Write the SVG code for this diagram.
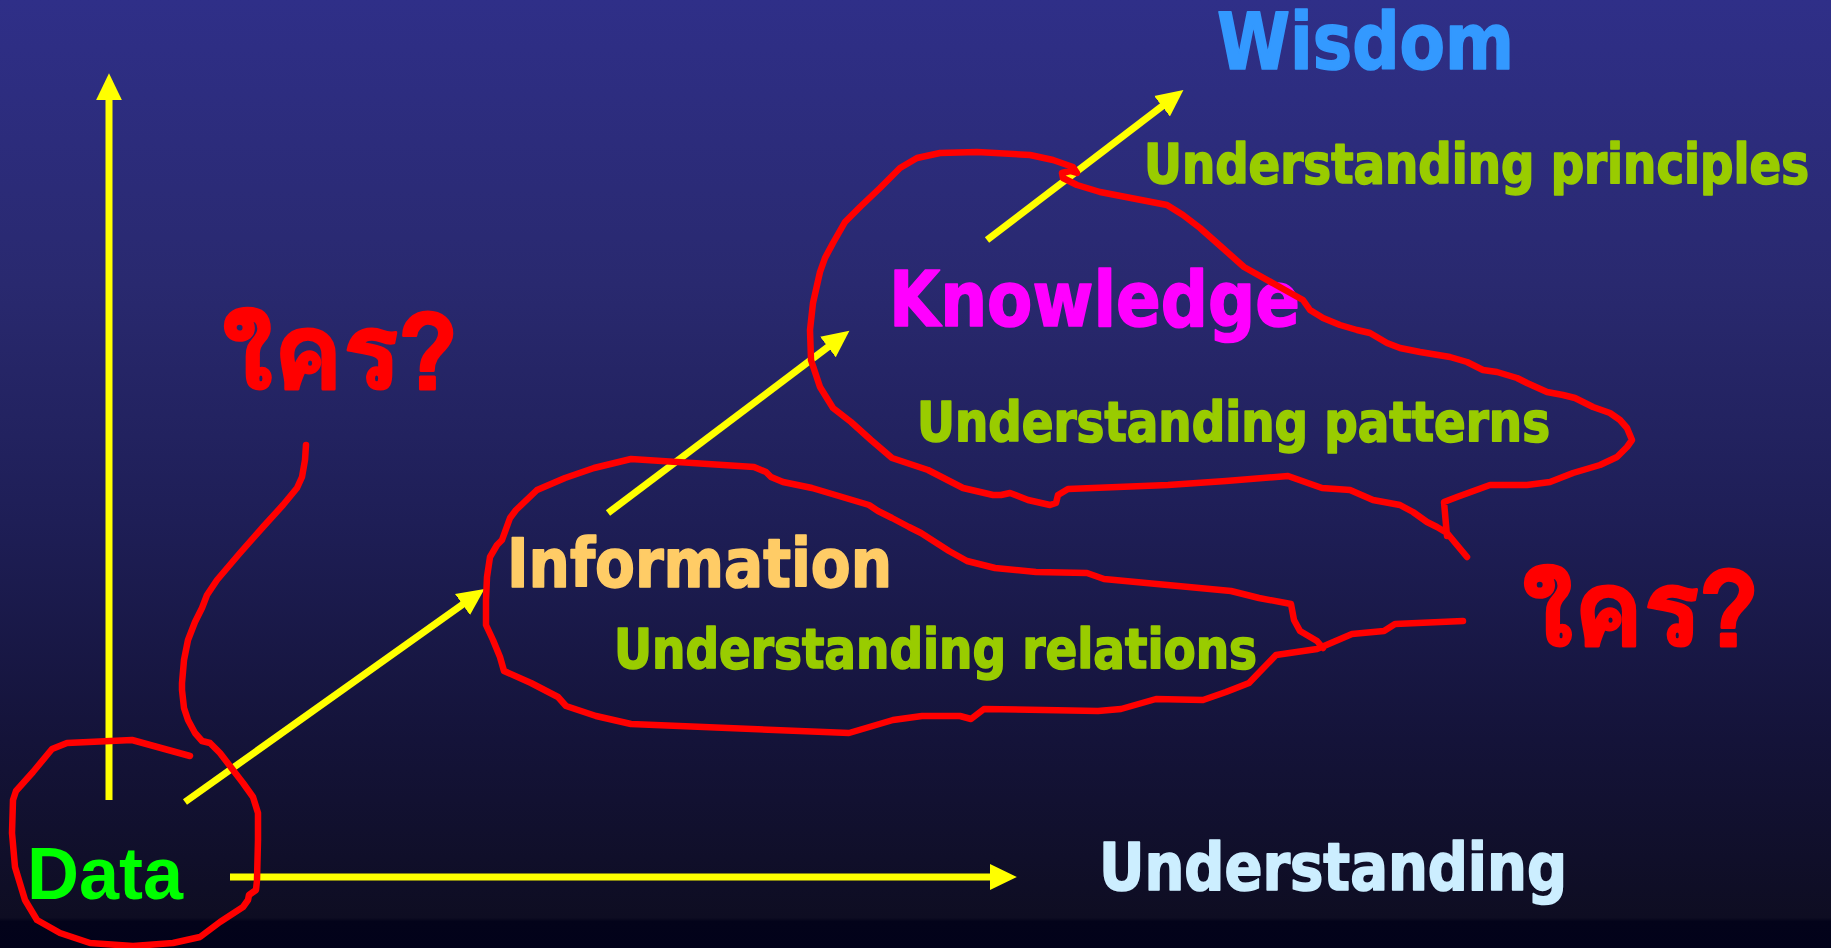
<svg xmlns="http://www.w3.org/2000/svg" width="1831" height="948" viewBox="0 0 1831 948">
<defs>
<linearGradient id="bg" x1="0" y1="0" x2="0" y2="948" gradientUnits="userSpaceOnUse">
<stop offset="0" stop-color="#2f2f88"/>
<stop offset="0.3" stop-color="#29296f"/>
<stop offset="0.55" stop-color="#1e1e56"/>
<stop offset="0.78" stop-color="#141339"/>
<stop offset="0.968" stop-color="#0e0d22"/>
<stop offset="0.972" stop-color="#03031a"/>
<stop offset="1" stop-color="#02021a"/>
</linearGradient>
<marker id="ah" markerUnits="userSpaceOnUse" markerWidth="28" markerHeight="28" viewBox="0 -13 26 26" refX="1" refY="0" orient="auto">
<path d="M0,-12 L25,0 L0,12 z" fill="#ffff00"/>
</marker>
<style>
.arrow{stroke:#ffff00;stroke-width:7;fill:none;marker-end:url(#ah)}
.red{stroke:#ff0000;stroke-width:6.5;fill:none;stroke-linejoin:round;stroke-linecap:round}
.tah{font-family:"DejaVu Sans Condensed","DejaVu Sans",sans-serif;font-weight:bold;font-stretch:condensed;stroke-width:1.6;stroke-linejoin:round}
.grn{fill:#99cc00;stroke:#99cc00;font-size:55px}
.thai{font-family:"Tahoma","Loma","Garuda","Noto Sans Thai","Noto Sans","DejaVu Sans",sans-serif;font-weight:bold;fill:#ff0000;stroke:#ff0000;stroke-width:3;stroke-linejoin:round;font-size:105px}
</style>
</defs>
<rect width="1831" height="948" fill="url(#bg)"/>
<g id="connectors">
<line class="arrow" x1="109" y1="800" x2="109" y2="99"/>
<line class="arrow" x1="230" y1="877" x2="991" y2="877"/>
<line class="arrow" x1="185" y1="802" x2="463.4" y2="603.9"/>
<line class="arrow" x1="608" y1="513" x2="828.8" y2="346.4"/>
<line class="arrow" x1="987" y1="240" x2="1162.9" y2="105.6"/>
</g>
<g id="data"><text x="27" y="899" font-family="Liberation Sans, Arial, sans-serif" font-weight="bold" font-size="75" fill="#00ff00" textLength="156" lengthAdjust="spacingAndGlyphs">Data</text></g>
<g id="understanding-axis"><text class="tah" x="1099" y="890" font-size="66" fill="#cceeff" stroke="#cceeff" textLength="468" lengthAdjust="spacingAndGlyphs">Understanding</text></g>
<g id="information">
<text class="tah" x="507" y="587" font-size="67" fill="#ffcc66" stroke="#ffcc66" textLength="385" lengthAdjust="spacingAndGlyphs">Information</text>
<text class="tah grn" x="614" y="668" textLength="643" lengthAdjust="spacingAndGlyphs">Understanding relations</text>
</g>
<g id="knowledge">
<text class="tah" x="889" y="326" font-size="77" fill="#ff00ff" stroke="#ff00ff" textLength="411" lengthAdjust="spacingAndGlyphs">Knowledge</text>
<text class="tah grn" x="917" y="441" textLength="633" lengthAdjust="spacingAndGlyphs">Understanding patterns</text>
</g>
<g id="wisdom">
<text class="tah" x="1217" y="69" font-size="78" fill="#3399ff" stroke="#3399ff" textLength="297" lengthAdjust="spacingAndGlyphs">Wisdom</text>
<text class="tah grn" x="1144" y="183" textLength="665" lengthAdjust="spacingAndGlyphs">Understanding principles</text>
</g>
<g id="annotations">
<text class="thai" x="222" y="388" textLength="235" lengthAdjust="spacingAndGlyphs">ใคร?</text>
<text class="thai" x="1522" y="645" textLength="236" lengthAdjust="spacingAndGlyphs">ใคร?</text>
<polyline class="red" points="190,756 132,740 67,743 52,749 33,772 16,791 13,800 12,833 15,867 25,900 37,920 60,933 90,943 133,946 173,943 200,937 220,922 243,907 248,900 249,895 256,890 257,880 258,840 258,813 253,797 243,783 233,770 220,753 210,743 202,741 195,733 188,720 184,708 182,690 182,683 184,660 188,640 195,622 202,608 207,595 217,580 240,553 263,527 283,505 297,488 302,477 305,460 306,445"/>
<polyline class="red" points="1463,621 1395,624 1384,631 1352,634 1317,649 1276,655 1249,683 1226,692 1203,700 1156,699 1121,709 1098,711 984,709 971,719 960,716 922,716 893,720 849,733 631,724 596,716 566,706 558,697 531,683 504,671 500,657 493,640 486,625 486,600 487,577 490,557 497,545 502,540 510,518 516,510 537,490 565,478 594,468 631,459 754,467 766,472 771,477 783,482 812,488 869,505 878,511 892,518 909,527 921,533 949,551 967,561 995,568 1036,572 1087,573 1104,579 1231,591 1259,598 1291,604 1294,620 1300,631 1317,641 1323,648"/>
<polyline class="red" points="1447,536 1444,502 1457,497 1490,485 1527,485 1550,482 1573,473 1600,465 1617,457 1627,447 1632,440 1627,428 1620,420 1610,413 1593,407 1575,398 1563,395 1547,392 1527,383 1517,378 1497,372 1483,370 1467,362 1450,357 1420,352 1400,348 1387,343 1370,333 1357,330 1340,325 1323,318 1310,310 1303,300 1285,290 1244,267 1217,243 1200,228 1183,215 1167,205 1100,192 1077,185 1063,178 1062,173 1070,171 1077,173 1073,167 1053,160 1030,155 977,152 940,153 917,158 900,168 880,188 860,207 845,222 833,243 825,258 820,272 813,303 810,330 811,360 820,387 833,408 851,422 871,440 892,458 928,470 963,488 993,495 1001,495 1010,493 1028,500 1050,505 1056,503 1058,495 1068,489 1168,485 1226,481 1288,476 1322,488 1350,490 1373,500 1400,505 1413,512 1427,522 1437,527 1447,533 1467,557"/>
</g>
</svg>
